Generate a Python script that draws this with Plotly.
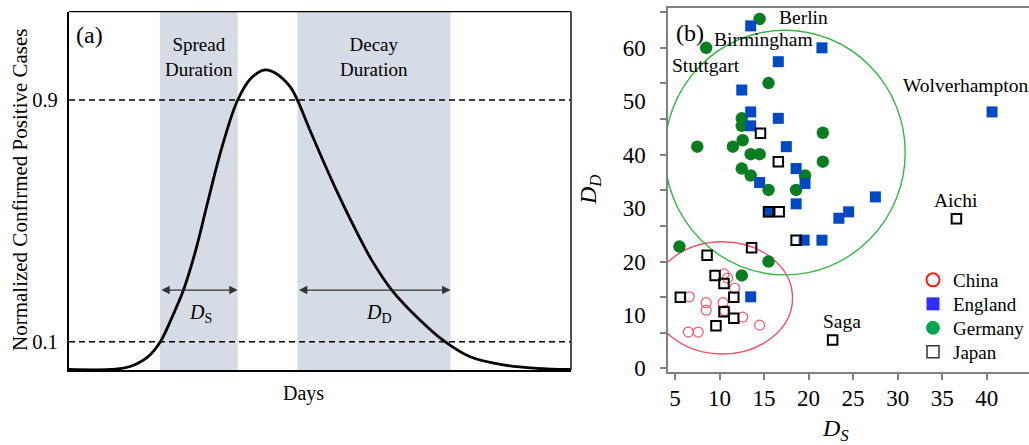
import plotly.graph_objects as go

# ---------------- data: panel (a) schematic curve ----------------
DAYS = [0, 8.2, 12.0, 15.7, 18.2, 20.5, 22.8, 25.2, 27.6, 30.4, 33.6, 36.3, 39.1, 41.0,
        44.0, 45.5, 48.0, 50.6, 53.3, 56.2, 60.3, 64.3, 69.9, 74.9, 79.9, 86.5, 93.2, 100]
CASES = [0.008, 0.008, 0.017, 0.050, 0.10, 0.18, 0.271, 0.40, 0.56, 0.74, 0.90, 0.973, 1.0,
         0.99, 0.945, 0.90, 0.80, 0.70, 0.60, 0.50, 0.37, 0.271, 0.172, 0.10, 0.050, 0.023,
         0.012, 0.008]
THRESHOLDS = [0.1, 0.9]
SPREAD_BAND = [18.1, 33.6]
DECAY_BAND = [45.5, 76.0]

# ---------------- data: panel (b) scatter ----------------
CHINA_DS = [10.5, 10.9, 11.7, 6.6, 8.5, 8.5, 10.4, 12.6, 14.5, 6.5, 7.6, 10.6]
CHINA_DD = [17.7, 16.9, 15.0, 13.4, 12.3, 10.9, 12.3, 9.6, 8.1, 6.8, 6.8, 10.8]

ENGLAND_DS = [13.5, 21.5, 16.6, 12.5, 13.5, 16.6, 13.5, 17.5, 18.6, 14.5, 19.6, 27.5,
              40.6, 18.6, 15.5, 23.4, 24.5, 19.5, 21.5, 13.5]
ENGLAND_DD = [64.1, 60.0, 57.4, 52.1, 48.0, 46.8, 45.4, 41.5, 37.4, 34.8, 34.6, 32.1,
              48.0, 30.8, 29.3, 28.1, 29.3, 24.0, 24.0, 13.4]

GERMANY_DS = [14.5, 8.5, 15.5, 12.5, 12.5, 12.6, 7.5, 11.5, 13.5, 14.5, 12.5, 13.5,
              15.5, 18.6, 19.6, 21.6, 21.6, 5.5, 15.5, 12.5]
GERMANY_DD = [65.4, 60.0, 53.4, 46.8, 45.4, 42.7, 41.5, 41.5, 40.1, 40.1, 37.4, 36.1,
              33.4, 33.4, 36.1, 44.1, 38.7, 22.8, 20.0, 17.4]

JAPAN_DS = [14.6, 16.6, 15.5, 16.7, 36.6, 18.6, 13.6, 8.6, 9.5, 10.5, 5.6, 11.6,
            10.5, 11.6, 9.6, 22.7]
JAPAN_DD = [44.0, 38.7, 29.3, 29.3, 28.0, 24.0, 22.6, 21.2, 17.4, 15.9, 13.3, 13.3,
            10.6, 9.4, 8.0, 5.3]

CITY_NAMES = ["Berlin", "Birmingham", "Stuttgart", "Wolverhampton", "Aichi", "Saga"]
CITY_LABEL_DS = [19.4, 14.9, 8.5, 37.6, 36.6, 23.8]
CITY_LABEL_DD = [65.7, 61.5, 56.6, 53.0, 31.4, 8.7]

# cluster ellipses: centre (DS, DD) and half-axes
CLUSTER_CENTERS = {"China": (10.3, 13.2), "Europe": (17.35, 40.4)}
CLUSTER_RADII = {"China": (7.9, 10.5), "Europe": (13.5, 22.9)}

X_TICKS = [5, 10, 15, 20, 25, 30, 35, 40]
Y_TICKS = [0, 10, 20, 30, 40, 50, 60]

# ---------------- layout helpers ----------------
W, H = 1029, 445
FONT = "Liberation Serif"


def px(x):
    return x / W


def py(y):
    return 1 - y / H


fig = go.Figure()

# panel (a)
fig.add_trace(go.Scatter(x=DAYS, y=CASES, mode="lines",
                         line=dict(color="black", width=2.8, shape="spline", smoothing=1.0),
                         showlegend=False, xaxis="x", yaxis="y", hoverinfo="skip"))

# panel (b) data traces
fig.add_trace(go.Scatter(x=CHINA_DS, y=CHINA_DD, mode="markers", name="China",
                         marker=dict(symbol="circle-open", size=10, color="#ef5a6c",
                                     line=dict(width=1.2, color="#ef5a6c")),
                         xaxis="x2", yaxis="y2", showlegend=False))
fig.add_trace(go.Scatter(x=GERMANY_DS, y=GERMANY_DD, mode="markers", name="Germany",
                         marker=dict(symbol="circle", size=12.5, color="#0a7d20"),
                         xaxis="x2", yaxis="y2", showlegend=False))
fig.add_trace(go.Scatter(x=ENGLAND_DS, y=ENGLAND_DD, mode="markers", name="England",
                         marker=dict(symbol="square", size=11, color="#0049c2"),
                         xaxis="x2", yaxis="y2", showlegend=False))
fig.add_trace(go.Scatter(x=JAPAN_DS, y=JAPAN_DD, mode="markers", name="Japan",
                         marker=dict(symbol="square-open", size=9.5, color="black",
                                     line=dict(width=2, color="black")),
                         xaxis="x2", yaxis="y2", showlegend=False))

# legend entries, each in its own legend box for exact spacing
legend_styles = [
    ("China", dict(symbol="circle-open", size=13, color="#ff1a1a", line=dict(width=2, color="#ff1a1a"))),
    ("England", dict(symbol="square", size=13, color="#2f2fff")),
    ("Germany", dict(symbol="circle", size=14, color="#00a651")),
    ("Japan", dict(symbol="square-open", size=12, color="#333333", line=dict(width=1.5, color="#333333"))),
]
legend_ids = ["legend", "legend2", "legend3", "legend4"]
for (name, mk), lid in zip(legend_styles, legend_ids):
    fig.add_trace(go.Scatter(x=[None], y=[None], mode="markers", name=name, marker=mk,
                             xaxis="x2", yaxis="y2", showlegend=True, legend=lid))

# invisible traces to realise the tick-mark overlay axes
fig.add_trace(go.Scatter(x=[None], y=[None], mode="markers", xaxis="x2", yaxis="y3",
                         showlegend=False, hoverinfo="skip"))
fig.add_trace(go.Scatter(x=[None], y=[None], mode="markers", xaxis="x3", yaxis="y2",
                         showlegend=False, hoverinfo="skip"))

shapes = []
for band in (SPREAD_BAND, DECAY_BAND):
    shapes.append(dict(type="rect", xref="x", yref="y domain", x0=band[0], x1=band[1],
                       y0=0, y1=1, fillcolor="#d6dce5", line=dict(width=0), layer="below"))
for t in THRESHOLDS:
    shapes.append(dict(type="line", xref="x domain", yref="y", x0=0, x1=1, y0=t, y1=t,
                       line=dict(color="black", width=1.6, dash="6px,4px")))
shapes.append(dict(type="line", xref="x domain", yref="y domain", x0=0, x1=1, y0=1, y1=1,
                   line=dict(color="black", width=1.3)))
shapes.append(dict(type="line", xref="x domain", yref="y domain", x0=1, x1=1, y0=0, y1=1,
                   line=dict(color="#222222", width=1.6)))
ell_colors = {"China": "#f0506a", "Europe": "#38b54a"}
for key in ("China", "Europe"):
    cx, cy = CLUSTER_CENTERS[key]
    rx, ry = CLUSTER_RADII[key]
    shapes.append(dict(type="circle", xref="x2", yref="y2", x0=cx - rx, x1=cx + rx,
                       y0=cy - ry, y1=cy + ry, line=dict(color=ell_colors[key], width=1.4),
                       layer="below"))

annotations = []


def ann(text, x, y, size, xref="paper", yref="paper", angle=0, **kw):
    annotations.append(dict(text=text, x=x, y=y, xref=xref, yref=yref, showarrow=False,
                            textangle=angle, font=dict(family=FONT, size=size, color="black"),
                            xanchor="center", yanchor="middle", **kw))


ann("(a)", px(89), py(35), 24)
ann("Spread<br>Duration", (SPREAD_BAND[0] + SPREAD_BAND[1]) / 2, py(57), 19, xref="x")
ann("Decay<br>Duration", (DECAY_BAND[0] + DECAY_BAND[1]) / 2, py(57), 19, xref="x")
ann("<i>D</i><sub>S</sub>", px(200), py(313), 20)
ann("<i>D</i><sub>D</sub>", px(379), py(313), 20)
ann("Days", px(303), py(393), 20)
ann("Normalized Confirmed Positive Cases", px(20), py(190), 21, angle=-90)

for band in (SPREAD_BAND, DECAY_BAND):
    annotations.append(dict(x=band[1], y=0.271, ax=band[0], ay=0.271, xref="x", yref="y",
                            axref="x", ayref="y", text="", showarrow=True,
                            arrowhead=2, startarrowhead=2, arrowside="end+start",
                            arrowsize=1.4, startarrowsize=1.4, arrowwidth=1.2,
                            arrowcolor="#333333", standoff=0, startstandoff=0))

ann("(b)", px(690), py(33), 24)
for name, xd, yd in zip(CITY_NAMES, CITY_LABEL_DS, CITY_LABEL_DD):
    ann(name, xd, yd, 19.5, xref="x2", yref="y2")
ann("<i>D<sub>D</sub></i>", px(590), py(190), 24, angle=-90)
ann("<i>D<sub>S</sub></i>", px(835), py(430), 24)

XR2 = [4.214, 44.75]
YR2 = [-0.67, 67.45]
minor_y = [i * 20 / 3 for i in range(11)]
tickfont_b = dict(family=FONT, size=23)

legend_layout = {}
for i, lid in enumerate(legend_ids):
    legend_layout[lid] = dict(x=px(913), y=py(280 + 24 * i), xanchor="left", yanchor="middle",
                              font=dict(family=FONT, size=19), itemwidth=30,
                              bgcolor="rgba(0,0,0,0)", borderwidth=0)

fig.update_layout(
    template="none",
    width=W, height=H,
    margin=dict(l=0, r=0, t=0, b=0, pad=0, autoexpand=False),
    paper_bgcolor="white", plot_bgcolor="white",
    font=dict(family=FONT, color="black"),
    shapes=shapes, annotations=annotations,
    xaxis=dict(domain=[px(69), px(571)], range=[0, 100], showline=True, linecolor="black",
               linewidth=2.2, showticklabels=False, ticks="", showgrid=False, zeroline=False,
               anchor="y", automargin=False),
    yaxis=dict(domain=[py(370), py(11.7)], range=[0.0063, 1.1924], showline=True,
               linecolor="black", linewidth=2.2, tickvals=THRESHOLDS,
               ticktext=["0.1", "0.9"], ticks="", showgrid=False, zeroline=False,
               tickfont=dict(family=FONT, size=20.5), ticklabelstandoff=5, anchor="x",
               automargin=False),
    xaxis2=dict(domain=[px(668), 1.0], range=XR2, showline=True,
                linecolor="#808080", linewidth=1.5, mirror=True, tickvals=X_TICKS,
                ticks="", showgrid=False, zeroline=False, tickfont=tickfont_b,
                ticklabelstandoff=5, anchor="y2", automargin=False),
    xaxis3=dict(overlaying="x2", anchor="y2", range=XR2, tickvals=X_TICKS, ticks="outside",
                ticklen=7, tickcolor="#808080", tickwidth=1.5, showticklabels=False,
                showline=False, showgrid=False, zeroline=False, side="bottom",
                automargin=False),
    yaxis2=dict(domain=[py(372), py(8)], range=YR2, showline=True, linecolor="#808080",
                linewidth=1.5, tickvals=Y_TICKS, ticks="", showgrid=False, zeroline=False,
                tickfont=tickfont_b, ticklabelstandoff=16, anchor="x2",
                automargin=False),
    yaxis3=dict(overlaying="y2", anchor="x2", range=YR2, tickvals=minor_y, ticks="outside",
                ticklen=7, tickcolor="#808080", tickwidth=1.5, showticklabels=False,
                showline=False, showgrid=False, zeroline=False, side="left",
                automargin=False),
    **legend_layout,
)

fig.write_html("out.html", config={"displayModeBar": False},
               post_script="document.body.style.margin='0px';")
